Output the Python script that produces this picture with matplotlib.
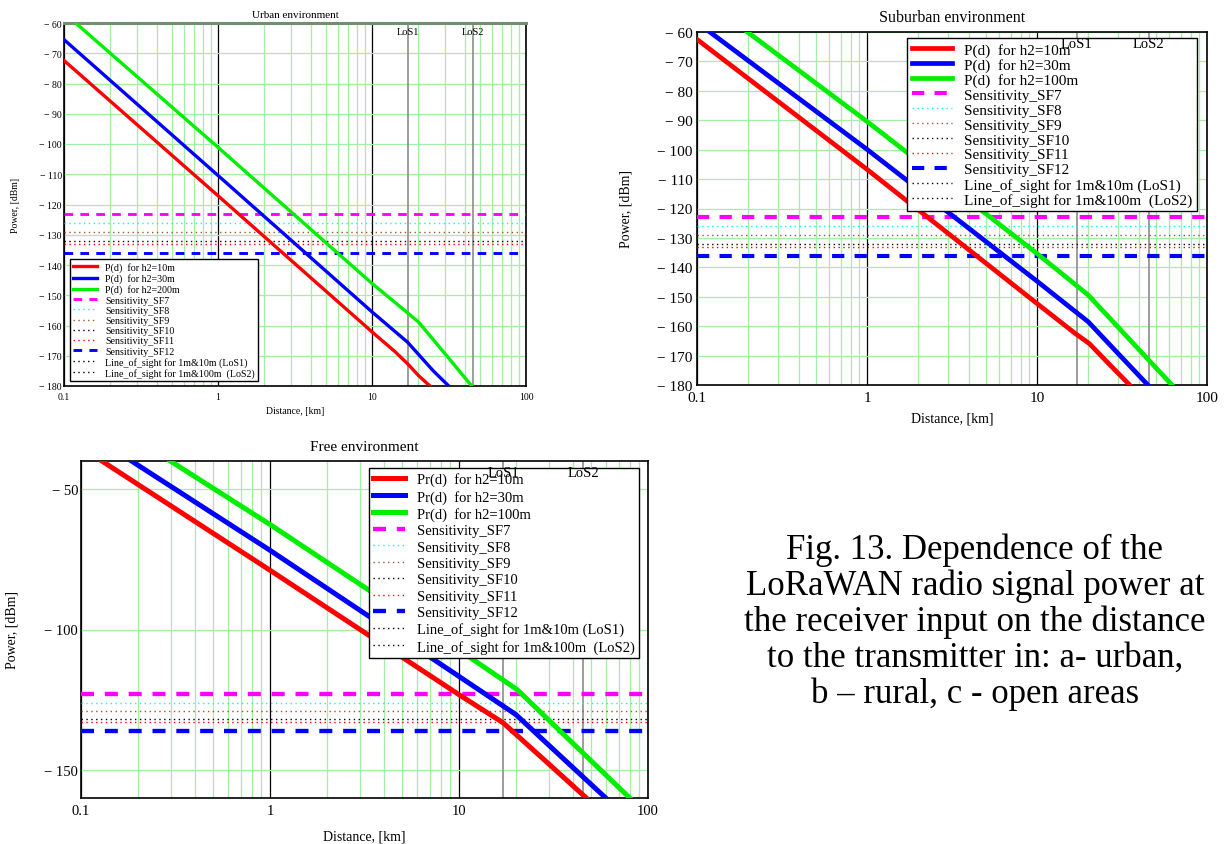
import matplotlib
matplotlib.use("Agg")
import matplotlib.pyplot as plt
from matplotlib.lines import Line2D
from matplotlib.ticker import FixedLocator, FuncFormatter, NullFormatter, LogLocator

plt.rcParams['font.family'] = ['Liberation Serif', 'DejaVu Serif']

# receiver sensitivity, dBm
sf_names = ["Sensitivity_SF7", "Sensitivity_SF8", "Sensitivity_SF9",
            "Sensitivity_SF10", "Sensitivity_SF11", "Sensitivity_SF12"]
sf_levels = [-123, -126, -129, -132, -133, -136]

# line of sight distances, km
los_names = ["LoS1", "LoS2"]
los_km = [17.1, 45.3]
los_labels = ["Line_of_sight for 1m&10m (LoS1)", "Line_of_sight for 1m&100m  (LoS2)"]

# urban
urban_d10 = [0.1, 1, 10, 14, 17, 20, 23.8]
urban_p10 = [-72.4, -117.1, -162.1, -168.5, -172.6, -176.5, -180]
urban_d30 = [0.1, 1, 10, 17, 20, 25, 31.5]
urban_p30 = [-65.5, -110.4, -155.5, -165.5, -169.5, -175, -180]
urban_d200 = [0.119, 1, 10, 15, 20, 30, 44.4]
urban_p200 = [-60, -101.1, -146.1, -153.5, -158.8, -169.5, -180]
urban_labels = ["P(d)  for h2=10m", "P(d)  for h2=30m", "P(d)  for h2=200m"]

# suburban
sub_d10 = [0.1, 1, 10, 16.8, 20.3, 27, 35.1]
sub_p10 = [-62.5, -106.7, -152.3, -162.5, -165.9, -173.3, -180]
sub_d30 = [0.119, 1, 10, 20, 30, 44.9]
sub_p30 = [-60, -99.9, -144.7, -158.5, -169.3, -180]
sub_d100 = [0.198, 1, 10, 20, 40, 62.2]
sub_p100 = [-60, -90.4, -135.3, -149.4, -168.1, -180]
sub_labels = ["P(d)  for h2=10m", "P(d)  for h2=30m", "P(d)  for h2=100m"]

# free space
free_d10 = [0.129, 1, 10, 17.1, 30, 47.2]
free_p10 = [-40, -78.9, -123.2, -133.2, -148, -160]
free_d30 = [0.185, 1, 10, 20, 35, 59.8]
free_p30 = [-40, -71.8, -116.7, -130.3, -145.5, -160]
free_d100 = [0.297, 1, 10, 20.3, 40, 80.1]
free_p100 = [-40, -62.6, -107.3, -121.4, -140.5, -160]
free_labels = ["Pr(d)  for h2=10m", "Pr(d)  for h2=30m", "Pr(d)  for h2=100m"]

xticks = [0.1, 1, 10, 100]
xtick_labels = ["0.1", "1", "10", "100"]

sf_styles = [
    dict(color="magenta", ls=(0, (3, 2.5)), lw=2.6),
    dict(color="cyan", ls=(0, (1, 2.5)), lw=1.0),
    dict(color="sienna", ls=(0, (1, 2.5)), lw=1.0),
    dict(color="black", ls=(0, (1, 2.5)), lw=1.0),
    dict(color="red", ls=(0, (1, 2.5)), lw=1.0),
    dict(color="blue", ls=(0, (3, 2.5)), lw=2.6),
]
curve_colors = ["#ff0000", "#0000ff", "#00ee00"]


def draw_panel(ax, title, curves, labels, ylim, yticks, fs, leg, lw):
    ax.set_xscale("log")
    ax.set_xlim(0.1, 100)
    ax.set_ylim(*ylim)

    ax.xaxis.set_major_locator(FixedLocator(xticks))
    ax.xaxis.set_major_formatter(FuncFormatter(lambda v, p: xtick_labels[xticks.index(v)] if v in xticks else ""))
    ax.xaxis.set_minor_locator(LogLocator(base=10, subs=range(2, 10)))
    ax.xaxis.set_minor_formatter(NullFormatter())
    ax.yaxis.set_major_locator(FixedLocator(yticks))
    ax.yaxis.set_major_formatter(FuncFormatter(lambda v, p: "\u2212 %d" % abs(v)))

    ax.grid(which="minor", axis="x", color="#a6eea6", lw=0.9)
    ax.grid(which="major", axis="x", color="black", lw=0.9)
    ax.grid(which="major", axis="y", color="#a6eea6", lw=0.9)
    ax.set_axisbelow(True)
    ax.tick_params(which="both", length=0, labelsize=fs["tick"])
    ax.tick_params(axis="x", pad=fs["xpad"])
    ax.tick_params(axis="y", pad=fs["ypad"])
    for s in ax.spines.values():
        s.set_linewidth(1.2)

    handles = []
    for (d, p), c, lab in zip(curves, curve_colors, labels):
        h, = ax.plot(d, p, color=c, lw=lw, label=lab, zorder=4)
        handles.append(h)
    for lvl, name, st in zip(sf_levels, sf_names, sf_styles):
        st = dict(st)
        if st["lw"] > 2:
            st["lw"] = st["lw"] * lw / 3.0
        h = ax.axhline(lvl, label=name, zorder=3, **st)
        handles.append(h)
    for x, name, lab in zip(los_km, los_names, los_labels):
        ax.axvline(x, color="#8c8c8c", lw=1.2, zorder=2)
        ax.text(x, fs["los_y"], name, transform=ax.get_xaxis_transform(),
                ha="center", va="top", fontsize=fs["los"], zorder=7)
        handles.append(Line2D([], [], color="black", ls=(0, (1, 2.5)), lw=1.0, label=lab))

    legend = ax.legend(handles=handles, loc=leg["loc"], bbox_to_anchor=leg["anchor"],
                       borderaxespad=0, fontsize=fs["legend"], fancybox=False,
                       framealpha=1, edgecolor="black", labelspacing=leg["spacing"],
                       handlelength=leg["hlen"], borderpad=0.3, handletextpad=0.8)
    legend.get_frame().set_linewidth(1.0)
    legend.set_zorder(6)

    ax.set_title(title, fontsize=fs["title"], pad=fs["tpad"])
    ax.set_xlabel("Distance, [km]", fontsize=fs["label"])
    ax.set_ylabel("Power, [dBm]", fontsize=fs["label"])
    ax.xaxis.set_label_coords(0.5, fs["xlab"])
    ax.yaxis.set_label_coords(fs["ylab"], 0.5)


fig = plt.figure(figsize=(12.31, 8.45), dpi=100)

ax1 = fig.add_axes([64 / 1231, 1 - 387 / 845, 462 / 1231, 363 / 845])
draw_panel(ax1, "Urban environment",
           [(urban_d10, urban_p10), (urban_d30, urban_p30), (urban_d200, urban_p200)],
           urban_labels, (-180, -60), list(range(-60, -181, -10)),
           dict(tick=7, xpad=4, ypad=1.5, title=8, tpad=4, label=7, legend=7.2, los=7.5,
                los_y=0.99, xlab=-0.055, ylab=-0.095),
           dict(loc="lower left", anchor=(0.013, 0.014), spacing=0.12, hlen=2.4), 2.4)
ax1.spines["top"].set_color("#6f8f6f")
ax1.spines["top"].set_linewidth(2.2)

ax2 = fig.add_axes([697 / 1231, 1 - 386 / 845, 510 / 1231, 353 / 845])
draw_panel(ax2, "Suburban environment",
           [(sub_d10, sub_p10), (sub_d30, sub_p30), (sub_d100, sub_p100)],
           sub_labels, (-180, -60), list(range(-60, -181, -10)),
           dict(tick=11, xpad=4, ypad=3, title=11.5, tpad=8, label=10, legend=11, los=10.5,
                los_y=0.985, xlab=-0.075, ylab=-0.127),
           dict(loc="upper right", anchor=(0.98, 0.983), spacing=0.08, hlen=2.6), 3.4)

ax3 = fig.add_axes([81 / 1231, 1 - 799 / 845, 567 / 1231, 337 / 845])
draw_panel(ax3, "Free environment",
           [(free_d10, free_p10), (free_d30, free_p30), (free_d100, free_p100)],
           free_labels, (-160, -40), [-50, -100, -150],
           dict(tick=10.5, xpad=4, ypad=2, title=11, tpad=8, label=10, legend=10.5, los=10.5,
                los_y=0.985, xlab=-0.093, ylab=-0.11),
           dict(loc="upper right", anchor=(0.984, 0.979), spacing=0.22, hlen=2.2), 3.6)

caption = ("Fig. 13. Dependence of the\nLoRaWAN radio signal power at\n"
           "the receiver input on the distance\nto the transmitter in: a- urban,\n"
           "b \u2013 rural, c - open areas")
fig.text(975 / 1231, 1 - 622 / 845, caption, ha="center", va="center",
         fontsize=25, linespacing=1.1)

fig.savefig("out.png", dpi=100)
